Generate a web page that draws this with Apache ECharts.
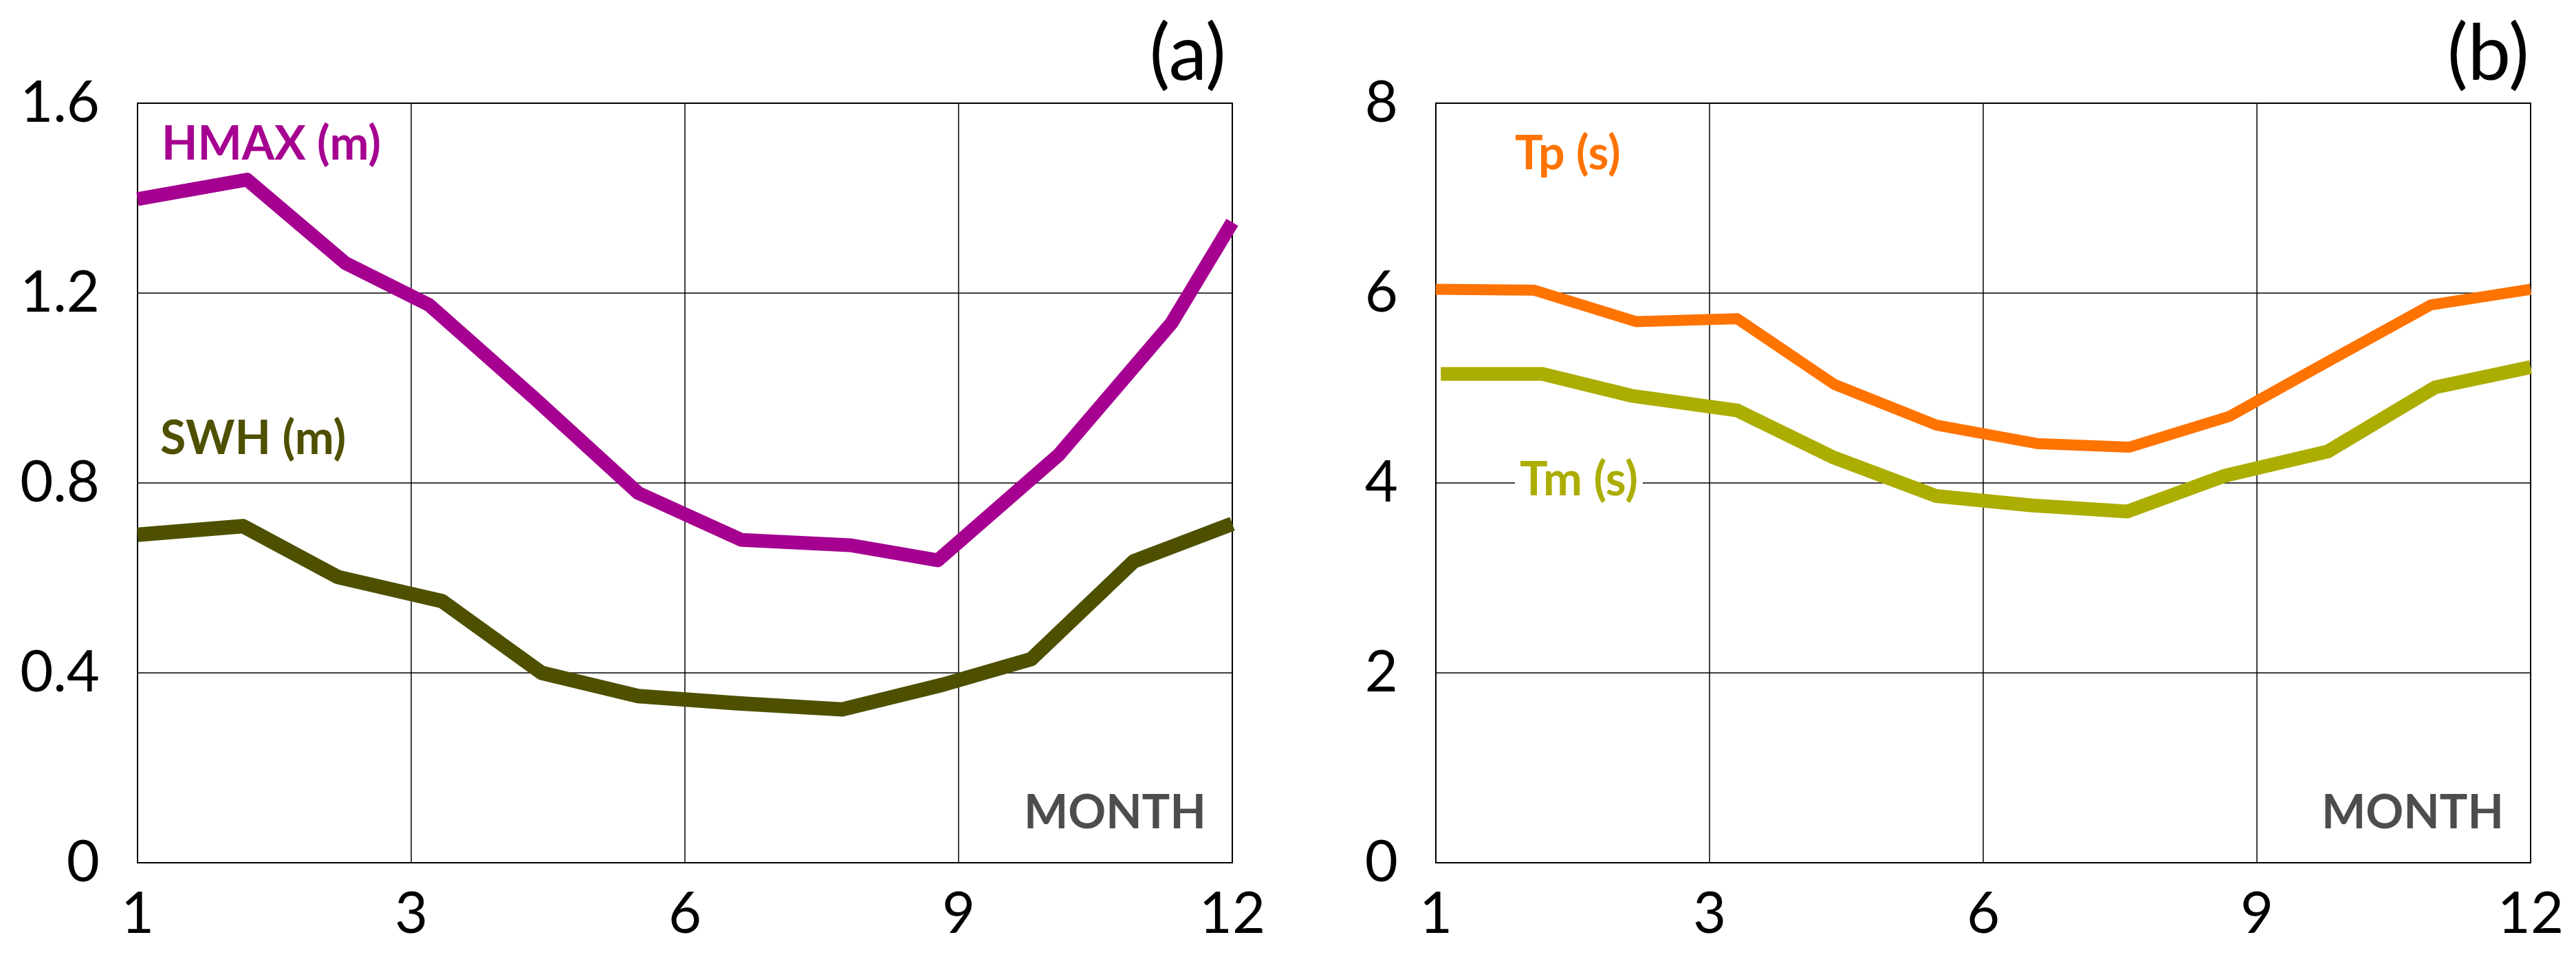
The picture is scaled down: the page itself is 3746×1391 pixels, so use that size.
<!DOCTYPE html>
<html>
<head>
<meta charset="utf-8">
<script src="https://cdn.jsdelivr.net/npm/echarts@6/dist/echarts.min.js"></script>
<style>
html,body{margin:0;padding:0;background:#fff;}
#c{width:3746px;height:1391px;}
</style>
</head>
<body>
<div id="c"></div>
<script>
// x tick labels (equally spaced on the axis) and y tick labels
const X_TICKS = ['1', '3', '6', '9', '12'];
const Y_TICKS_A = ['0', '0.4', '0.8', '1.2', '1.6'];
const Y_TICKS_B = ['0', '2', '4', '6', '8'];

// panel (a): month position (0 = first month, 11 = last)
const HMAX_X = [0, 1.1, 2.09, 2.93, 3.98, 5.03, 6.07, 7.16, 8.04, 9.26, 10.39, 11];
const HMAX   = [1.398, 1.439, 1.263, 1.175, 0.98, 0.779, 0.68, 0.669, 0.637, 0.86, 1.137, 1.349];
const SWH_X  = [0, 1.06, 2.01, 3.06, 4.06, 5.03, 6.03, 7.08, 8.09, 8.98, 10.01, 11];
const SWH    = [0.691, 0.709, 0.602, 0.551, 0.40, 0.351, 0.336, 0.323, 0.375, 0.429, 0.635, 0.714];

// panel (b)
const TP_X = [0, 0.99, 2.01, 3.03, 4.0, 5.03, 6.04, 6.97, 7.97, 8.88, 10.0, 11];
const TP   = [6.04, 6.03, 5.70, 5.73, 5.04, 4.61, 4.415, 4.377, 4.70, 5.23, 5.876, 6.04];
const TM_X = [0.05, 1.07, 1.96, 3.03, 4.0, 5.03, 5.98, 6.95, 7.92, 8.96, 10.04, 11];
const TM   = [5.149, 5.149, 4.92, 4.763, 4.267, 3.862, 3.765, 3.70, 4.074, 4.331, 5.007, 5.22];

const pairs = (xs, ys) => xs.map((x, i) => [x, ys[i]]);

const chart = echarts.init(document.getElementById('c'), null, {renderer: 'canvas'});

function xAxis(gi) {
  return {
    type: 'value', gridIndex: gi, min: 0, max: 11, interval: 2.75,
    axisLine: {show: true, lineStyle: {color: '#000', width: 2}},
    axisTick: {show: false},
    axisLabel: {
      showMinLabel: true, showMaxLabel: true,
      formatter: v => X_TICKS[Math.round(v / 2.75)],
      fontFamily: 'Lato', fontSize: 83, color: '#000', margin: 34
    },
    splitLine: {show: true, lineStyle: {color: '#000', width: 1.5}}
  };
}
function yAxis(gi, max, interval, labels) {
  return {
    type: 'value', gridIndex: gi, min: 0, max: max, interval: interval,
    axisLine: {show: true, lineStyle: {color: '#000', width: 2}},
    axisTick: {show: false},
    axisLabel: {
      showMinLabel: true, showMaxLabel: true,
      formatter: v => labels[Math.round(v / interval)],
      fontFamily: 'Lato', fontSize: 83, color: '#000', margin: 55
    },
    splitLine: {show: true, lineStyle: {color: '#000', width: 1.5}}
  };
}
function line(name, xs, ys, color, width, gi) {
  return {
    name: name, type: 'line', xAxisIndex: gi, yAxisIndex: gi,
    data: pairs(xs, ys), showSymbol: false, symbol: 'none',
    lineStyle: {color: color, width: width, cap: 'butt', join: 'round'},
    z: 5, animation: false
  };
}
function label(text, x, y, color, extra) {
  return Object.assign({
    type: 'text', x: x, y: y, z: 20,
    style: Object.assign({
      text: text, font: 'bold 68px Lato', fill: color,
      textAlign: 'left', textVerticalAlign: 'middle',
      align: 'left', verticalAlign: 'middle'
    }, extra || {})
  });
}

chart.setOption({
  animation: false,
  backgroundColor: '#fff',
  grid: [
    {left: 200, top: 150, width: 1592, height: 1104, show: true, borderColor: '#000', borderWidth: 2},
    {left: 2088, top: 150, width: 1592, height: 1104, show: true, borderColor: '#000', borderWidth: 2}
  ],
  xAxis: [xAxis(0), xAxis(1)],
  yAxis: [yAxis(0, 1.6, 0.4, Y_TICKS_A), yAxis(1, 8, 2, Y_TICKS_B)],
  series: [
    line('HMAX (m)', HMAX_X, HMAX, '#A50090', 20, 0),
    line('SWH (m)', SWH_X, SWH, '#4E5000', 21, 0),
    line('Tp (s)', TP_X, TP, '#FF7300', 16, 1),
    line('Tm (s)', TM_X, TM, '#ABAD00', 20, 1)
  ],
  graphic: [
    label('HMAX (m)', 235, 210, '#A50090'),
    label('SWH (m)', 233, 638, '#4E5000'),
    label('MONTH', 1489, 1182, '#4D4D4D'),
    label('Tp (s)', 2203, 224, '#FF7300'),
    label('Tm (s)', 2203, 698, '#ABAD00', {backgroundColor: '#fff', padding: [0, 7, 0, 7]}),
    label('MONTH', 3376, 1182, '#4D4D4D'),
    label('(a)', 1783, 80, '#000', {font: '112px Lato', textAlign: 'right', align: 'right'}),
    label('(b)', 3678, 80, '#000', {font: '112px Lato', textAlign: 'right', align: 'right'})
  ]
});
</script>
</body>
</html>
